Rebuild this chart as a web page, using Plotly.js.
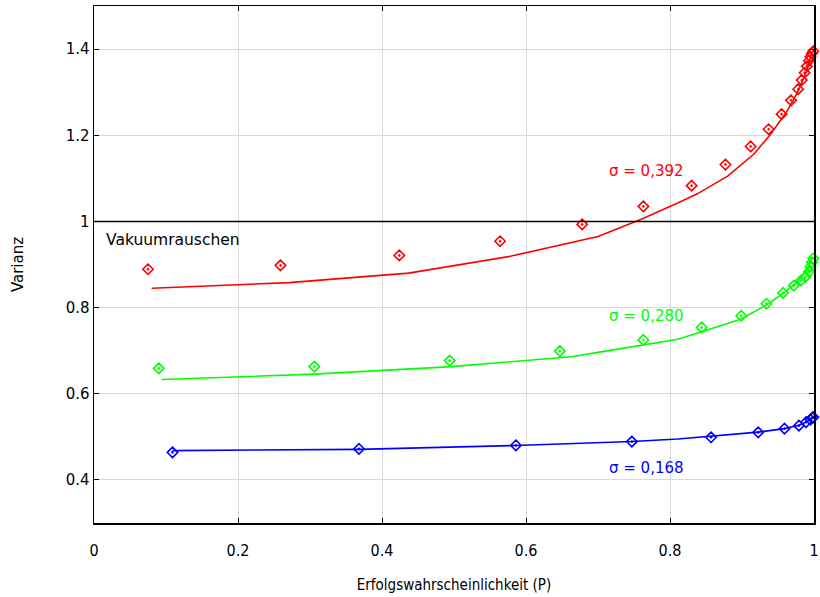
<!DOCTYPE html>
<html><head><meta charset="utf-8">
<script src="https://cdn.plot.ly/plotly-3.0.1.min.js"></script>
<style>html,body{margin:0;padding:0;background:#fff}#c{width:820px;height:597px}</style>
</head><body><div id="c"></div>
<script>
// Messpunkte (Marker)
const redPx = [0.075,0.259,0.424,0.564,0.678,0.763,0.830,0.877,0.912,0.937,0.955,0.968,0.978,0.983,0.987,0.990,0.993,0.995,0.997,0.999];
const redPy = [0.889,0.898,0.921,0.954,0.993,1.035,1.083,1.132,1.174,1.214,1.249,1.281,1.307,1.328,1.345,1.360,1.373,1.382,1.390,1.395];
const greenPx = [0.090,0.306,0.494,0.647,0.763,0.844,0.899,0.934,0.957,0.972,0.982,0.988,0.993,0.995,0.997,0.999];
const greenPy = [0.659,0.663,0.677,0.699,0.725,0.754,0.781,0.809,0.834,0.851,0.863,0.871,0.883,0.895,0.905,0.914];
const bluePx = [0.109,0.368,0.586,0.747,0.857,0.9225,0.959,0.979,0.989,0.995,0.998,0.999];
const bluePy = [0.464,0.472,0.480,0.489,0.499,0.5105,0.519,0.526,0.534,0.540,0.544,0.546];
// Theoriekurven (Linien)
const redLx = [0.080,0.271,0.437,0.578,0.700,0.760,0.810,0.838,0.880,0.917,0.940,0.963,0.977,0.990,0.997];
const redLy = [0.845,0.858,0.880,0.919,0.965,1.005,1.042,1.064,1.105,1.157,1.203,1.257,1.299,1.349,1.392];
const greenLx = [0.094,0.306,0.497,0.663,0.700,0.763,0.811,0.844,0.898,0.934,0.958,0.977,0.990,0.997];
const greenLy = [0.633,0.6455,0.663,0.686,0.696,0.713,0.7265,0.744,0.773,0.806,0.834,0.860,0.887,0.914];
const blueLx = [0.109,0.368,0.586,0.747,0.811,0.857,0.9225,0.959,0.979,0.990,0.997];
const blueLy = [0.468,0.471,0.480,0.489,0.495,0.501,0.511,0.519,0.527,0.535,0.545];
const sigmaLabels = ["σ = 0,392","σ = 0,280","σ = 0,168"];
const xTicks = [0,0.2,0.4,0.6,0.8,1];
const yTicks = [0.4,0.6,0.8,1,1.2,1.4];

const RED="#ff0000", GREEN="#00ff00", BLUE="#0000ff";
function mk(x,y,c){return {x:x,y:y,type:'scatter',mode:'markers',cliponaxis:false,
  marker:{symbol:'diamond-open-dot',size:8,color:c,line:{width:1.6,color:c}},showlegend:false,hoverinfo:'skip'};}
function ln(x,y,c){return {x:x,y:y,type:'scatter',mode:'lines',line:{color:c,width:1.6},showlegend:false,hoverinfo:'skip'};}
const data=[ln(redLx,redLy,RED),mk(redPx,redPy,RED),ln(greenLx,greenLy,GREEN),mk(greenPx,greenPy,GREEN),ln(blueLx,blueLy,BLUE),mk(bluePx,bluePy,BLUE)];
const F="DejaVu Sans";
const N="Liberation Sans Narrow, DejaVu Sans Condensed, DejaVu Sans";
const layout={
  width:820,height:597,margin:{l:94,r:6,t:6,b:74},
  paper_bgcolor:'#fff',plot_bgcolor:'#fff',
  font:{family:F,size:15,color:'#000'},
  xaxis:{range:[0,1],tickvals:xTicks,ticktext:xTicks.map(String),ticks:'inside',ticklen:5,tickcolor:'#000',
    showline:true,linecolor:'#000',linewidth:1.5,mirror:'ticks',showgrid:true,gridcolor:'#d9d9d9',gridwidth:1,zeroline:false,
    ticklabeloverflow:'allow',ticklabelstandoff:12,
    tickfont:{family:N,size:16},
    title:{text:'Erfolgswahrscheinlichkeit (P)',font:{family:N,size:15},standoff:21}},
  yaxis:{range:[0.3,1.5],tickvals:yTicks,ticktext:yTicks.map(String),ticks:'inside',ticklen:5,tickcolor:'#000',
    showline:true,linecolor:'#000',linewidth:1.5,mirror:'ticks',showgrid:true,gridcolor:'#d9d9d9',gridwidth:1,zeroline:false,
    tickfont:{family:F,size:15},title:{text:'Varianz',font:{family:F,size:15},standoff:38}},
  shapes:[{type:'line',xref:'paper',x0:0,x1:1,yref:'y',y0:1,y1:1,line:{color:'#000',width:1.5}}],
  annotations:[
    {x:0.713,y:1.116,text:sigmaLabels[0],showarrow:false,xanchor:'left',yanchor:'middle',font:{color:RED,size:15,family:F}},
    {x:0.713,y:0.780,text:sigmaLabels[1],showarrow:false,xanchor:'left',yanchor:'middle',font:{color:GREEN,size:15,family:F}},
    {x:0.713,y:0.4266,text:sigmaLabels[2],showarrow:false,xanchor:'left',yanchor:'middle',font:{color:BLUE,size:15,family:F}},
    {x:0.0138,y:0.958,text:'Vakuumrauschen',showarrow:false,xanchor:'left',yanchor:'middle',font:{color:'#000',size:15.5,family:F}}
  ]
};
Plotly.newPlot('c',data,layout,{displayModeBar:false,staticPlot:true});
</script></body></html>
